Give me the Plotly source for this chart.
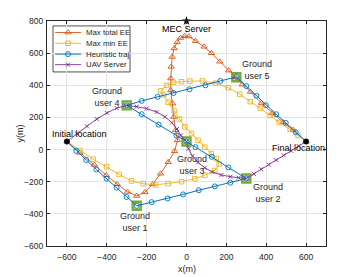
import plotly.graph_objects as go

# ---------------- data ----------------
start_xy = (-600, 50)
final_xy = (600, 50)
mec_xy = (0, 800)

user_x = [-250, 300, 0, -300, 250]
user_y = [-350, -180, 50, 275, 450]
user_names = ["Ground<br>user 1", "Ground<br>user 2", "Ground<br>user 3",
              "Ground<br>user 4", "Ground<br>user 5"]

# Max total EE
tot_x = [-600, -535, -462, -402, -348, -296, -250, -208, -170, -130, -92, -60, -45,
         -55, -64, -70, -79, -79, -77, -72, -62, -47, -30, -10, 12, 45, 88, 125,
         167, 212, 245, 280, 321, 376, 431, 484, 535, 600]
tot_y = [50, -20, -95, -160, -215, -263, -288, -265, -215, -150, -78, -10, 58,
         120, 203, 287, 369, 443, 515, 577, 630, 668, 695, 706, 704, 675, 640, 600,
         547, 492, 450, 405, 359, 290, 226, 170, 122, 50]

# Max min EE
mm_x = [-600, -535, -468, -401, -338, -276, -217, -155, -92, -25, 42, 92, 142, 164,
        150, 125, 92, 58, 25, -8, -35, -62, -92, -115, -130, -100, -65, -25, 17,
        80, 145, 209, 267, 320, 370, 420, 465, 520, 560, 600]
mm_y = [50, -5, -60, -108, -155, -195, -212, -220, -212, -200, -181, -160, -130, -90,
        -56, -25, 15, 58, 100, 141, 190, 240, 295, 340, 365, 400, 418, 422, 426,
        427, 413, 385, 345, 298, 258, 212, 168, 125, 88, 50]

# Heuristic traj
heu_x = [-600, -553, -503, -452, -401, -351, -301, -250,
         -175, -95, -17, 62, 142, 220, 300,
         210, 127, 45, 0,
         -50, -140, -225, -300,
         -225, -145, -65, 15, 95, 170, 250,
         300, 351, 398, 450, 498, 548, 600]
heu_y = [50, -8, -65, -124, -181, -237, -295, -350,
         -327, -304, -279, -253, -229, -206, -180,
         -111, -45, 15, 50,
         88, 155, 220, 275,
         303, 328, 352, 375, 400, 427, 452,
         395, 334, 276, 220, 166, 108, 50]

# UAV Server
uav_x = [-600, -550, -500, -450, -400, -350, -300,
         -250, -200, -150, -108, -74, -48, -28, 0,
         10, 30, 58, 92, 130, 175, 220, 262, 300,
         338, 375, 413, 450, 488, 525, 563, 600]
uav_y = [50, 100, 145, 190, 228, 258, 275,
         267, 255, 234, 204, 168, 128, 88, 50,
         5, -40, -80, -113, -140, -158, -169, -175, -180,
         -151, -122, -93, -65, -36, -8, 22, 50]

series_names = ["Max total EE", "Max min EE", "Heuristic traj", "UAV Server"]

# ---------------- styles ----------------
C_ORANGE = "#D95319"
C_YELLOW = "#EDB120"
C_BLUE = "#0072BD"
C_PURPLE = "#7E2F8E"
C_GREEN = "#77AC30"
FONT = "Liberation Sans, Arial, sans-serif"
TXT = "#262626"

styles = [
    dict(color=C_ORANGE, symbol="triangle-up-open", size=5.5, lw=0.9),
    dict(color=C_YELLOW, symbol="square-open", size=4.5, lw=0.9),
    dict(color=C_BLUE, symbol="circle-open", size=5, lw=1.0),
    dict(color=C_PURPLE, symbol="x-thin-open", size=4, lw=0.9),
]

fig = go.Figure()

# ground users (drawn first so trajectory markers sit on top)
fig.add_trace(go.Scatter(x=user_x, y=user_y, mode="markers", showlegend=False,
                         marker=dict(symbol="square-open", size=8, color=C_GREEN,
                                     line=dict(width=2.4, color=C_GREEN))))

data = [(tot_x, tot_y), (mm_x, mm_y), (heu_x, heu_y), (uav_x, uav_y)]
for (xs, ys), st, nm in zip(data, styles, series_names):
    fig.add_trace(go.Scatter(
        x=xs, y=ys, mode="lines+markers", name=nm, showlegend=False,
        line=dict(color=st["color"], width=st["lw"]),
        marker=dict(symbol=st["symbol"], size=st["size"], color=st["color"],
                    line=dict(width=0.9, color=st["color"]))))

# start / final / MEC server
fig.add_trace(go.Scatter(x=[start_xy[0], final_xy[0]], y=[start_xy[1], final_xy[1]],
                         mode="markers", showlegend=False,
                         marker=dict(symbol="circle", size=5.5, color="black")))
fig.add_trace(go.Scatter(x=[mec_xy[0]], y=[mec_xy[1]], mode="markers", showlegend=False,
                         cliponaxis=False,
                         marker=dict(symbol="star", size=7, color="black")))

# ---------------- hand-built legend (overlay axes in [0,1]) ----------------
leg_rows = [0.949, 0.901, 0.853, 0.806]
lx0, lx1, lxm, ltx = 0.029, 0.122, 0.0755, 0.131
for row, st, nm in zip(leg_rows, styles, series_names):
    fig.add_trace(go.Scatter(x=[lx0, lx1], y=[row, row], mode="lines", xaxis="x2", yaxis="y2",
                             showlegend=False, hoverinfo="skip",
                             line=dict(color=st["color"], width=st["lw"])))
    fig.add_trace(go.Scatter(x=[lxm], y=[row], mode="markers", xaxis="x2", yaxis="y2",
                             showlegend=False, hoverinfo="skip",
                             marker=dict(symbol=st["symbol"], size=st["size"], color=st["color"],
                                         line=dict(width=0.9, color=st["color"]))))
    fig.add_annotation(x=ltx, y=row, xref="x2", yref="y2", text=nm, showarrow=False,
                       xanchor="left", yanchor="middle",
                       font=dict(family=FONT, size=7.8, color=TXT))

shapes = [dict(type="rect", xref="paper", yref="paper", x0=0.0215, x1=0.2975,
               y0=0.7736, y1=0.978, fillcolor="white",
               line=dict(color=TXT, width=0.8), layer="between")]

# ---------------- text labels ----------------
label_pos = [(-259, -452), (409, -272), (27, -96), (-401, 326), (352, 497)]
for (lx, ly), txt in zip(label_pos, user_names):
    fig.add_annotation(x=lx, y=ly, text=txt, showarrow=False,
                       font=dict(family=FONT, size=9, color=TXT))
fig.add_annotation(x=0, y=748, text="MEC Server", showarrow=False,
                   font=dict(family=FONT, size=9, color="black"))
fig.add_annotation(x=-538, y=95, text="Initial location", showarrow=False,
                   font=dict(family=FONT, size=9, color="black"))
fig.add_annotation(x=560, y=10, text="Final location", showarrow=False,
                   font=dict(family=FONT, size=9, color="black"))

# axis titles as annotations for exact placement
fig.add_annotation(x=0.5, y=-0.101, xref="paper", yref="paper", text="x(m)",
                   showarrow=False, yanchor="middle",
                   font=dict(family=FONT, size=9, color=TXT))
fig.add_annotation(x=-0.097, y=0.5, xref="paper", yref="paper", text="y(m)",
                   showarrow=False, textangle=-90, xanchor="center",
                   font=dict(family=FONT, size=9, color=TXT))

axis_common = dict(showline=True, mirror="ticks", linecolor=TXT, linewidth=1,
                   ticks="inside", ticklen=3, tickcolor=TXT, showgrid=True,
                   gridcolor="#e4e4e4", gridwidth=1, zeroline=False, automargin=False,
                   tickfont=dict(family=FONT, size=8.5, color=TXT))

fig.update_layout(
    width=360, height=277,
    margin=dict(l=47, r=34, t=21, b=31),
    paper_bgcolor="white", plot_bgcolor="white",
    showlegend=False,
    shapes=shapes,
    xaxis=dict(range=[-700, 700], dtick=200, tick0=0, ticklabelstandoff=3, **axis_common),
    yaxis=dict(range=[-600, 800], dtick=200, tick0=0, ticklabelstandoff=1, **axis_common),
    xaxis2=dict(overlaying="x", range=[0, 1], visible=False, fixedrange=True),
    yaxis2=dict(overlaying="y", range=[0, 1], visible=False, fixedrange=True),
)

fig.write_html("out.html", config={"displayModeBar": False},
               post_script="document.body.style.margin='0';")
